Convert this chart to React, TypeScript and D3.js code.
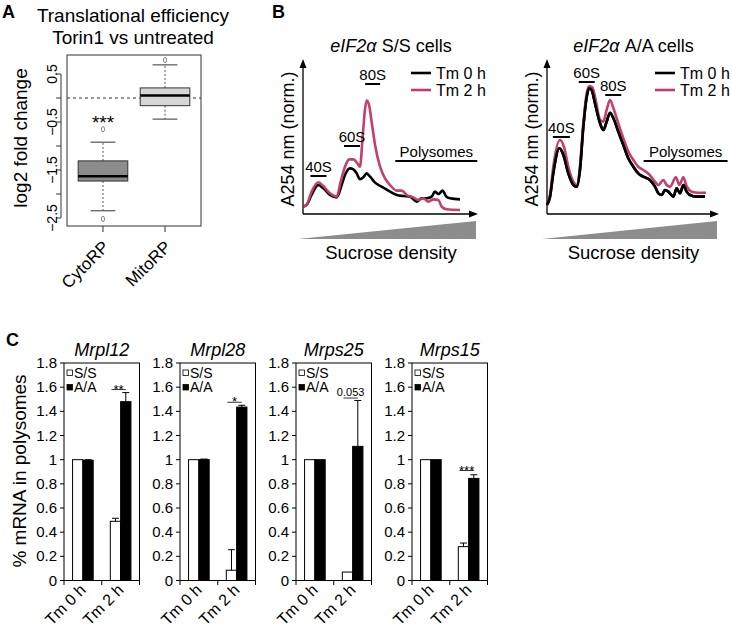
import React from "react";
import * as d3 from "d3";

const FONT = "'Liberation Sans', Arial, Helvetica, sans-serif";

// ---------- Panel A data ----------
const boxCategories = ["CytoRP", "MitoRP"];
const boxLowerWhisker = [-2.35, -0.44];
const boxQ1 = [-1.73, -0.16];
const boxMedian = [-1.63, 0.05];
const boxQ3 = [-1.31, 0.21];
const boxUpperWhisker = [-0.92, 0.69];
const boxOutliers = [[-0.65, -2.52], [0.79]];
const boxFills = ["#8c8c8c", "#d6d6d6"];
const boxTicks = [0.5, 0, -0.5, -1, -1.5, -2, -2.5];
const boxTickLabels = [0.5, -0.5, -1.5, -2.5];

// ---------- Panel B data (fraction position %, A254 normalised %) ----------
const ssTm0: [number, number][] = [
  [0.2, 4.9], [2.1, 6.0], [5.0, 12.6], [8.9, 19.2], [11.8, 17.0], [15.7, 12.6], [19.6, 11.0],
  [22.5, 19.2], [24.4, 25.8], [27.3, 30.2], [29.3, 29.6], [31.2, 26.9], [33.1, 23.0], [35.1, 24.3],
  [37.0, 26.9], [39.0, 24.7], [41.9, 20.8], [45.7, 18.1], [49.6, 15.5], [54.5, 12.6], [58.3, 11.9],
  [62.2, 11.5], [66.1, 8.2], [69.0, 10.4], [71.9, 10.4], [74.8, 11.5], [76.7, 14.8], [78.7, 13.2],
  [81.2, 15.5], [83.1, 11.9], [85.5, 10.4], [91.3, 9.7],
];
const ssTm2: [number, number][] = [
  [0.2, 4.9], [2.1, 6.0], [5.0, 14.8], [8.9, 21.0], [11.8, 18.5], [15.7, 13.7], [19.6, 11.5],
  [21.9, 21.4], [24.4, 31.3], [26.9, 36.2], [29.3, 36.2], [31.6, 33.6], [33.1, 31.3], [34.7, 51.2],
  [36.0, 68.9], [37.0, 75.1], [38.4, 72.2], [39.9, 61.1], [41.9, 45.7], [44.8, 31.3], [47.7, 23.6],
  [50.6, 19.2], [54.5, 15.5], [57.4, 15.5], [60.3, 12.6], [64.1, 11.0], [67.1, 9.3], [70.0, 10.4],
  [72.9, 8.2], [75.8, 9.7], [78.7, 9.3], [80.6, 4.9], [83.5, 3.1], [91.3, 2.6],
];
const aaTm0: [number, number][] = [
  [0, 6.0], [1.8, 11.5], [3.7, 26.9], [7.3, 43.5], [9.7, 39.1], [12.6, 26.9], [15.6, 19.2],
  [17.6, 18.1], [19.5, 29.1], [21.5, 57.8], [23.5, 77.7], [25.0, 83.2], [26.4, 82.1], [28.4, 73.3],
  [31.4, 60.0], [33.3, 55.6], [35.3, 61.1], [37.3, 67.1], [39.3, 63.4], [42.2, 54.5], [45.2, 45.7],
  [48.1, 36.9], [51.1, 31.3], [54.0, 26.9], [57.0, 24.7], [60.9, 22.5], [63.9, 18.1], [65.9, 13.7],
  [67.9, 12.6], [69.8, 15.9], [71.8, 14.8], [74.8, 11.5], [76.7, 17.0], [78.7, 13.7], [80.7, 19.2],
  [82.6, 14.8], [84.6, 12.6], [88.6, 11.5], [93.5, 11.5],
];
const aaTm2: [number, number][] = [
  [0, 6.0], [1.8, 12.6], [3.7, 31.3], [7.7, 49.0], [10.1, 44.2], [12.6, 31.3], [15.6, 21.4],
  [17.6, 19.2], [19.5, 31.3], [21.5, 60.0], [23.5, 79.9], [25.0, 84.8], [26.8, 83.9], [28.8, 75.5],
  [31.4, 62.3], [33.3, 61.1], [35.3, 68.9], [37.3, 75.5], [39.3, 70.0], [42.2, 60.0], [45.2, 50.1],
  [48.1, 41.3], [51.1, 35.8], [54.0, 31.3], [57.0, 29.1], [60.9, 25.8], [63.9, 21.4], [65.9, 19.2],
  [68.8, 22.5], [70.8, 19.2], [72.8, 18.1], [76.3, 24.3], [78.3, 19.2], [80.7, 24.3], [82.6, 18.5],
  [85.6, 14.8], [89.5, 14.1], [94.1, 14.1],
];
const legendLabels = ["Tm 0 h", "Tm 2 h"];
const profileColors = ["#000000", "#c23b6c"];

// ---------- Panel C data ----------
const genes = ["Mrpl12", "Mrpl28", "Mrps25", "Mrps15"];
const timeGroups = ["Tm 0 h", "Tm 2 h"];
const genotypes = ["S/S", "A/A"];
const ssMean = [[1.0, 0.49], [1.0, 0.085], [1.0, 0.07], [1.0, 0.28]];
const ssErr = [[0, 0.025], [0, 0.17], [0, 0], [0, 0.03]];
const aaMean = [[0.995, 1.48], [1.0, 1.435], [1.0, 1.11], [1.0, 0.845]];
const aaErr = [[0.005, 0.075], [0.005, 0.015], [0, 0.38], [0, 0.03]];
const sigLabels = ["**", "*", "0.053", "***"];
const sigLevels = [1.58, 1.475, 1.51, 0.91];
const cTicks = [0, 0.2, 0.4, 0.6, 0.8, 1, 1.2, 1.4, 1.6, 1.8];

function PanelA() {
  const x = d3.scaleLinear().domain([0.42, 2.58]).range([67, 201]);
  const y = d3.scaleLinear().domain([0.5, -2.5]).range([74, 218]);
  const half = 0.4;
  return (
    <g>
      <text x={2} y={18} fontSize={18} fontWeight="bold">A</text>
      <text x={133} y={22} fontSize={19} textAnchor="middle">Translational efficiency</text>
      <text x={133} y={44} fontSize={19} textAnchor="middle">Torin1 vs untreated</text>
      <text transform="translate(27,138) rotate(-90)" fontSize={19} textAnchor="middle">log2 fold change</text>
      {/* y axis */}
      <line x1={61} x2={61} y1={y(0.5)} y2={y(-2.5)} stroke="#333" />
      {boxTicks.map((t) => (
        <line key={t} x1={56} x2={61} y1={y(t)} y2={y(t)} stroke="#333" />
      ))}
      {boxTickLabels.map((t) => (
        <text key={t} transform={`translate(56.5,${y(t)}) rotate(-90)`} fontSize={14} textAnchor="middle">
          {t < 0 ? "\u2212" + Math.abs(t) : String(t)}
        </text>
      ))}
      {/* plot box */}
      <rect x={67} y={55} width={134} height={171} fill="none" stroke="#333" />
      <line x1={67} x2={201} y1={y(0)} y2={y(0)} stroke="#333" strokeDasharray="3,3" />
      {boxCategories.map((c, i) => {
        const cx = x(i + 1);
        const bx0 = x(i + 1 - half);
        const bx1 = x(i + 1 + half);
        const sx0 = x(i + 1 - half / 2);
        const sx1 = x(i + 1 + half / 2);
        return (
          <g key={c}>
            <line x1={cx} x2={cx} y1={y(boxQ3[i])} y2={y(boxUpperWhisker[i])} stroke="#555" strokeDasharray="2,2" />
            <line x1={cx} x2={cx} y1={y(boxQ1[i])} y2={y(boxLowerWhisker[i])} stroke="#555" strokeDasharray="2,2" />
            <line x1={sx0} x2={sx1} y1={y(boxUpperWhisker[i])} y2={y(boxUpperWhisker[i])} stroke="#333" />
            <line x1={sx0} x2={sx1} y1={y(boxLowerWhisker[i])} y2={y(boxLowerWhisker[i])} stroke="#333" />
            <rect x={bx0} y={y(boxQ3[i])} width={bx1 - bx0} height={y(boxQ1[i]) - y(boxQ3[i])} fill={boxFills[i]} stroke="#333" />
            <line x1={bx0} x2={bx1} y1={y(boxMedian[i])} y2={y(boxMedian[i])} stroke="#000" strokeWidth={2.5} />
            {boxOutliers[i].map((o, k) => (
              <ellipse key={k} cx={cx} cy={y(o)} rx={1.6} ry={2.6} fill="none" stroke="#777" strokeWidth={0.9} />
            ))}
            <line x1={cx} x2={cx} y1={226} y2={232} stroke="#333" />
            <text transform={`translate(${cx + 7},248) rotate(-45)`} fontSize={17} textAnchor="end">{c}</text>
          </g>
        );
      })}
      <text x={x(1)} y={129} fontSize={19} textAnchor="middle">***</text>
    </g>
  );
}

function ProfilePanel({ x0, x1, title, s0, s1, labels }: any) {
  const x = d3.scaleLinear().domain([0, 100]).range([x0, x1]);
  const y = d3.scaleLinear().domain([0, 100]).range([214, 63]);
  const line = d3.line<[number, number]>().x((d) => x(d[0])).y((d) => y(d[1])).curve(d3.curveMonotoneX);
  const cx = (x0 + x1) / 2 + 2;
  return (
    <g>
      <text x={cx} y={52} fontSize={18} textAnchor="middle">
        <tspan fontStyle="italic">eIF2</tspan>
        <tspan fontStyle="italic">{"\u03b1"}</tspan>
        <tspan>{" " + title + " cells"}</tspan>
      </text>
      <text transform={`translate(${x0 - 9},139) rotate(-90)`} fontSize={18} textAnchor="middle">A254 nm (norm.)</text>
      <line x1={x0} x2={x0} y1={214} y2={66} stroke="#000" strokeWidth={1.3} />
      <path d={`M${x0},59 L${x0 - 3.5},68 L${x0 + 3.5},68 Z`} fill="#000" />
      <line x1={x0} x2={x1 - 2} y1={214} y2={214} stroke="#000" strokeWidth={1.3} />
      <path d={`M${x1 + 3},214 L${x1 - 6},210.5 L${x1 - 6},217.5 Z`} fill="#000" />
      <path d={line(s0) || ""} fill="none" stroke={profileColors[0]} strokeWidth={2.6} />
      <path d={line(s1) || ""} fill="none" stroke={profileColors[1]} strokeWidth={2.6} opacity={0.98} />
      <path d={line(s0) || ""} fill="none" stroke={profileColors[0]} strokeWidth={2.6} opacity={title === "A/A" ? 1 : 0} />
      {labels.map((l: any) => (
        <g key={l.t}>
          <text x={x(l.x)} y={l.ty} fontSize={15} textAnchor="middle">{l.t}</text>
          <line x1={x(l.x) - l.w / 2} x2={x(l.x) + l.w / 2} y1={l.ty + 4} y2={l.ty + 4} stroke="#000" strokeWidth={2} />
        </g>
      ))}
      {legendLabels.map((lab, i) => (
        <g key={lab}>
          <line x1={x0 + 108} x2={x0 + 128} y1={73 + i * 17} y2={73 + i * 17} stroke={profileColors[i]} strokeWidth={2.6} />
          <text x={x0 + 133} y={78.5 + i * 17} fontSize={16}>{lab}</text>
        </g>
      ))}
      <path d={`M${x0 - 5},239 L${x1 + 1},221 L${x1 + 1},239 Z`} fill="#8c8c8c" />
      <text x={cx} y={259} fontSize={18.5} textAnchor="middle">Sucrose density</text>
    </g>
  );
}

function PanelB() {
  const ssLabels = [
    { t: "40S", x: 9, ty: 172, w: 16 },
    { t: "60S", x: 28.5, ty: 142, w: 16 },
    { t: "80S", x: 40.5, ty: 80, w: 15 },
    { t: "Polysomes", x: 77.5, ty: 157, w: 82 },
  ];
  const aaLabels = [
    { t: "40S", x: 8.5, ty: 133, w: 17 },
    { t: "60S", x: 23.5, ty: 78, w: 16 },
    { t: "80S", x: 39.2, ty: 91, w: 16 },
    { t: "Polysomes", x: 82, ty: 157, w: 84 },
  ];
  return (
    <g>
      <text x={272} y={18} fontSize={18} fontWeight="bold">B</text>
      <ProfilePanel x0={303} x1={475} title="S/S" s0={ssTm0} s1={ssTm2} labels={ssLabels} />
      <ProfilePanel x0={547} x1={716} title="A/A" s0={aaTm0} s1={aaTm2} labels={aaLabels} />
    </g>
  );
}

function PanelC() {
  const y = d3.scaleLinear().domain([0, 1.8]).range([580.5, 363]);
  const w = 75.5;
  return (
    <g>
      <text x={6} y={346} fontSize={18} fontWeight="bold">C</text>
      <text transform="translate(26,471) rotate(-90)" fontSize={19} textAnchor="middle">% mRNA in polysomes</text>
      {genes.map((g, gi) => {
        const x0 = 64 + 116 * gi;
        const xg = d3.scaleBand().domain(timeGroups).range([x0, x0 + w]).padding(0);
        const xs = d3.scaleBand().domain(genotypes).range([0, xg.bandwidth()]).paddingInner(0).paddingOuter(0.83);
        const means = [ssMean[gi], aaMean[gi]];
        const errs = [ssErr[gi], aaErr[gi]];
        const bw = xs.bandwidth();
        const ssC = (xg("Tm 2 h") as number) + (xs("S/S") as number) + bw / 2;
        const aaC = (xg("Tm 2 h") as number) + (xs("A/A") as number) + bw / 2;
        const sl = sigLabels[gi];
        const isNum = !sl.includes("*");
        return (
          <g key={g}>
            <text x={x0 + w / 2} y={356} fontSize={18} fontStyle="italic" textAnchor="middle">{g}</text>
            {cTicks.map((t) => (
              <g key={t}>
                <line x1={x0 - 4} x2={x0} y1={y(t)} y2={y(t)} stroke="#000" />
                <text x={x0 - 7} y={y(t) + 5} fontSize={15} textAnchor="end">{String(t)}</text>
              </g>
            ))}
            {timeGroups.map((tg) =>
              genotypes.map((gt, k) => {
                const ti = timeGroups.indexOf(tg);
                const bx = (xg(tg) as number) + (xs(gt) as number);
                const v = means[k][ti];
                const e = errs[k][ti];
                const c = bx + bw / 2;
                return (
                  <g key={tg + gt}>
                    <rect x={bx} y={y(v)} width={bw} height={y(0) - y(v)} fill={k === 0 ? "#fff" : "#000"} stroke="#000" strokeWidth={1} />
                    {e > 0 && (
                      <g>
                        <line x1={c} x2={c} y1={y(v)} y2={y(v + e)} stroke="#000" strokeWidth={1} />
                        <line x1={c - 3.5} x2={c + 3.5} y1={y(v + e)} y2={y(v + e)} stroke="#000" strokeWidth={1} />
                      </g>
                    )}
                  </g>
                );
              })
            )}
            <rect x={x0} y={363} width={w} height={y(0) - 363} fill="none" stroke="#000" strokeWidth={1} />
            {[0, 1, 2].map((k) => (
              <line key={k} x1={x0 + (k * w) / 2} x2={x0 + (k * w) / 2} y1={580.5} y2={585} stroke="#000" />
            ))}
            {timeGroups.map((tg) => {
              const c = (xg(tg) as number) + xg.bandwidth() / 2;
              return (
                <text key={tg} transform={`translate(${c + 4},591) rotate(-45)`} fontSize={16} textAnchor="end">{tg}</text>
              );
            })}
            {genotypes.map((gt, k) => (
              <g key={gt}>
                <rect x={x0 + 3} y={370 + k * 14.5} width={5.5} height={5.5} fill={k === 0 ? "#fff" : "#000"} stroke="#000" strokeWidth={0.8} />
                <text x={x0 + 10} y={377.5 + k * 14.5} fontSize={14}>{gt}</text>
              </g>
            ))}
            <line x1={ssC - 4} x2={aaC} y1={y(sigLevels[gi])} y2={y(sigLevels[gi])} stroke="#000" strokeWidth={0.8} />
            <text x={(ssC - 4 + aaC) / 2} y={y(sigLevels[gi]) + (isNum ? -2 : 4)} fontSize={isNum ? 11 : 13} textAnchor="middle">{sl}</text>
          </g>
        );
      })}
    </g>
  );
}

export default function App() {
  return (
    <svg
      width={732}
      height={630}
      viewBox="0 0 732 630"
      style={{ position: "absolute", left: 0, top: 0, display: "block", background: "#fff" }}
      fontFamily={FONT}
    >
      <rect width={732} height={630} fill="#fff" />
      <PanelA />
      <PanelB />
      <PanelC />
    </svg>
  );
}
